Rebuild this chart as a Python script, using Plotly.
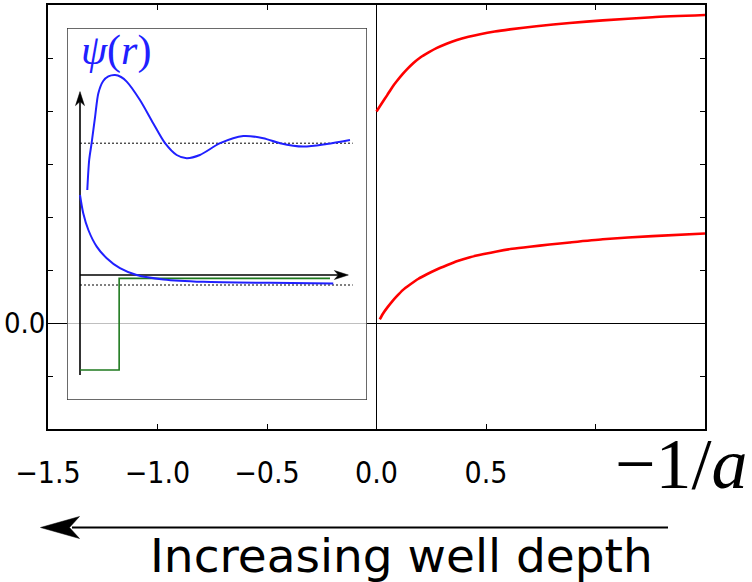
import plotly.graph_objects as go

# ---------------- data (main panel: energy levels vs -1/a) ----------------
upper_x = [0.0, 0.025, 0.049, 0.072, 0.094, 0.12, 0.14, 0.17, 0.2, 0.24, 0.276, 0.32, 0.367, 0.42,
           0.473, 0.54, 0.609, 0.73, 0.882, 1.033, 1.26, 1.5]
upper_y = [3.99, 4.15, 4.30, 4.45, 4.57, 4.70, 4.79, 4.91, 5.01, 5.11, 5.19, 5.27, 5.34, 5.40,
           5.45, 5.50, 5.54, 5.60, 5.66, 5.71, 5.77, 5.81]
lower_x = [0.015, 0.03, 0.049, 0.07, 0.094, 0.12, 0.155, 0.19, 0.23, 0.275, 0.321, 0.37, 0.427,
           0.49, 0.549, 0.62, 0.70, 0.79, 0.882, 1.033, 1.26, 1.5]
lower_y = [0.07, 0.18, 0.29, 0.40, 0.51, 0.62, 0.73, 0.83, 0.92, 1.01, 1.09, 1.17, 1.24,
           1.30, 1.35, 1.40, 1.44, 1.48, 1.52, 1.58, 1.64, 1.69]

x_tickvals = [-1.5, -1.0, -0.5, 0.0, 0.5, 1.0, 1.5]
x_ticktext = ["−1.5", "−1.0", "−0.5", "0.0", "0.5", "", ""]
y_tickvals = [-1, 0, 1, 2, 3, 4, 5]
y_ticktext = ["", "0.0", "", "", "", "", ""]

# ---------------- data (inset: wavefunctions psi(r) and well) ----------------
scat_r = [0.27, 0.34, 0.43, 0.56, 0.68, 0.86, 1.05, 1.30, 1.52, 1.73, 2.22, 2.71, 3.15, 3.58, 3.95,
          4.44, 5.19, 6.05, 6.79, 7.41, 8.27, 9.14, 10.0]
scat_psi = [4.25, 5.75, 6.59, 7.92, 9.09, 9.70, 9.93, 10.0, 9.90, 9.67, 8.75, 7.59, 6.59, 6.0, 5.84,
            6.0, 6.59, 6.95, 6.84, 6.59, 6.42, 6.55, 6.75]
bound_r = [0.0, 0.12, 0.31, 0.62, 0.99, 1.48, 2.10, 3.09, 4.57, 7.04, 9.38]
bound_psi = [4.0, 3.09, 2.25, 1.42, 0.84, 0.34, 0.0, -0.22, -0.34, -0.39, -0.42]
well_r = [0.0, 1.45, 1.45, 9.26]
well_v = [-4.75, -4.75, -0.17, -0.17]
e_scat = 6.59
e_bound = -0.5
level_r = [0.0, 10.1]
yaxis_r = [0.0, 0.0]
yaxis_v = [-5.0, 8.8]
xaxis_r = [0.0, 9.6]
xaxis_v = [0.0, 0.0]
ytip = 9.17
xtip = 9.94

# inset coordinate ranges
in_xr = [-0.4815, 10.63]
in_yr = [-6.25, 12.35]

W, H = 752, 582
ML, MR, MT, MB = 48, 47, 5, 153
PW, PH = W - ML - MR, H - MT - MB


def px(x):
    return (x - ML) / PW


def py(y):
    return (H - MB - y) / PH


fig = go.Figure()

red = dict(color="#ff0000", width=2.6)
fig.add_trace(go.Scatter(x=upper_x, y=upper_y, mode="lines", line=dict(shape="spline", smoothing=0.6, **red),
                         xaxis="x", yaxis="y", hoverinfo="skip"))
fig.add_trace(go.Scatter(x=lower_x, y=lower_y, mode="lines", line=dict(shape="spline", smoothing=0.6, **red),
                         xaxis="x", yaxis="y", hoverinfo="skip"))

# inset traces
dot = dict(color="black", width=1, dash="2px,2px")
fig.add_trace(go.Scatter(x=level_r, y=[e_scat, e_scat], mode="lines", line=dot,
                         xaxis="x2", yaxis="y2", hoverinfo="skip"))
fig.add_trace(go.Scatter(x=level_r, y=[e_bound, e_bound], mode="lines", line=dot,
                         xaxis="x2", yaxis="y2", hoverinfo="skip"))
fig.add_trace(go.Scatter(x=yaxis_r, y=yaxis_v, mode="lines", line=dict(color="black", width=1.6),
                         xaxis="x2", yaxis="y2", hoverinfo="skip"))
fig.add_trace(go.Scatter(x=xaxis_r, y=xaxis_v, mode="lines", line=dict(color="black", width=1.6),
                         xaxis="x2", yaxis="y2", hoverinfo="skip"))
fig.add_trace(go.Scatter(x=well_r, y=well_v, mode="lines", line=dict(color="#1f7a1f", width=1.6),
                         xaxis="x2", yaxis="y2", hoverinfo="skip"))
blue = dict(color="#2020ff", width=2)
fig.add_trace(go.Scatter(x=bound_r, y=bound_psi, mode="lines", line=dict(shape="spline", smoothing=0.8, **blue),
                         xaxis="x2", yaxis="y2", hoverinfo="skip"))
fig.add_trace(go.Scatter(x=scat_r, y=scat_psi, mode="lines", line=dict(shape="spline", smoothing=0.8, **blue),
                         xaxis="x2", yaxis="y2", hoverinfo="skip"))

shapes = [
    # inset frame with translucent white background
    dict(type="rect", xref="x2", yref="y2", x0=in_xr[0], x1=in_xr[1], y0=in_yr[0], y1=in_yr[1],
         fillcolor="rgba(255,255,255,0.75)", line=dict(color="#3a3a3a", width=1.5), layer="below"),
    # inset arrowheads
    dict(type="path", xref="x2", yref="y2", xsizemode="pixel", ysizemode="pixel",
         xanchor=0, yanchor=ytip, path="M0,0 L-4.5,-14 L0,-10 L4.5,-14 Z",
         fillcolor="black", line=dict(color="black", width=0.5), layer="above"),
    dict(type="path", xref="x2", yref="y2", xsizemode="pixel", ysizemode="pixel",
         xanchor=xtip, yanchor=0, path="M0,0 L-14,4.5 L-10,0 L-14,-4.5 Z",
         fillcolor="black", line=dict(color="black", width=0.5), layer="above"),
    # big arrow below the axis
    dict(type="line", xref="paper", yref="paper", x0=px(668), x1=px(72), y0=py(527.5), y1=py(527.5),
         line=dict(color="black", width=2)),
    dict(type="path", xref="paper", yref="paper", xsizemode="pixel", ysizemode="pixel",
         xanchor=px(40.5), yanchor=py(527.5), path="M0,0 L39,11 L29,0 L39,-11 Z",
         fillcolor="black", line=dict(color="black", width=0.5)),
]

annotations = [
    dict(text="Increasing well depth", xref="paper", yref="paper", x=px(401), y=py(555),
         xanchor="center", yanchor="middle", showarrow=False,
         font=dict(family="DejaVu Sans", size=47, color="black")),
    dict(text="−1/<i>a</i>", xref="paper", yref="paper", x=px(750), y=py(464),
         xanchor="right", yanchor="middle", showarrow=False,
         font=dict(family="Liberation Serif", size=72, color="black")),
    dict(text="<i>ψ</i>(<i>r</i>)", xref="paper", yref="paper", x=px(116), y=py(50),
         xanchor="center", yanchor="middle", showarrow=False,
         font=dict(family="Liberation Serif", size=42, color="#2020ff")),
]

tick_family = "DejaVu Sans Condensed, DejaVu Sans"
axis_common = dict(showline=True, linecolor="black", linewidth=1.5, mirror="allticks",
                   ticks="inside", ticklen=5, tickwidth=1, tickcolor="black",
                   showgrid=False, zeroline=True, zerolinecolor="black", zerolinewidth=1,
                   automargin=False)

fig.update_layout(
    width=W, height=H,
    margin=dict(l=ML, r=MR, t=MT, b=MB, autoexpand=False),
    paper_bgcolor="white", plot_bgcolor="rgba(0,0,0,0)",
    showlegend=False,
    xaxis=dict(range=[-1.5, 1.5], tickmode="array", tickvals=x_tickvals, ticktext=x_ticktext,
               ticklabelstandoff=16, tickfont=dict(family=tick_family, size=30, color="black"),
               **axis_common),
    yaxis=dict(range=[-2, 6], tickmode="array", tickvals=y_tickvals, ticktext=y_ticktext,
               ticklabelstandoff=-5, tickfont=dict(family=tick_family, size=29, color="black"),
               **axis_common),
    xaxis2=dict(domain=[px(67), px(367)], range=in_xr, visible=False, anchor="y2"),
    yaxis2=dict(domain=[py(400), py(28)], range=in_yr, visible=False, anchor="x2"),
    shapes=shapes,
    annotations=annotations,
)

fig.write_html("out.html")
